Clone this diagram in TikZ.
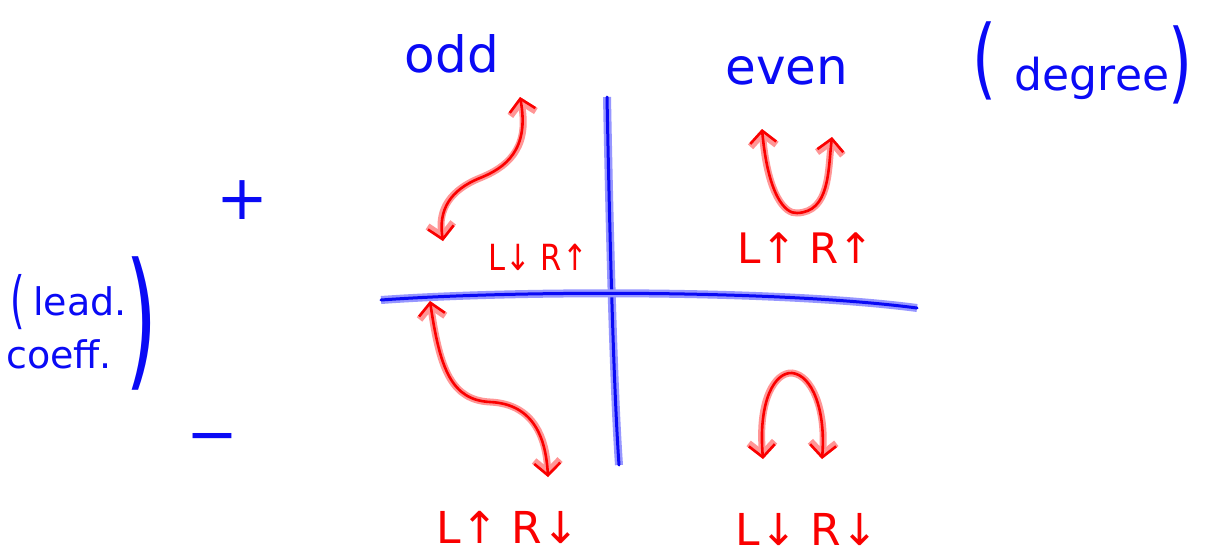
\documentclass[tikz,border=0pt]{standalone}
\usepackage{fontspec}
\setmainfont{DejaVu Sans}
\usetikzlibrary{arrows.meta}
\definecolor{penblue}{RGB}{10,10,245}
\definecolor{haloblue}{RGB}{150,150,255}
\definecolor{penred}{RGB}{250,0,0}
\definecolor{halored}{RGB}{255,150,150}
\tikzset{
  bluepen/.style={draw=penblue, line width=3pt, line cap=round, line join=round,
    preaction={draw=haloblue, line width=8pt}},
  redpen/.style={draw=penred, line width=2.6pt, line cap=round, line join=round,
    {Straight Barb[length=12pt,width=26pt]}-{Straight Barb[length=12pt,width=26pt]},
    preaction={draw=halored, line width=7pt}},
  bluetxt/.style={inner sep=0pt, text=penblue},
  redtxt/.style={inner sep=0pt, text=penred, anchor=base},
}
\begin{document}
\begin{tikzpicture}[x=1pt,y=-1pt]
\useasboundingbox[fill=white] (0,0) rectangle (1209,557);
% axes
\coordinate (vt) at (607,97);
\coordinate (vb) at (619,465);
\coordinate (hl) at (381,300);
\coordinate (hr) at (917,308);
\draw[bluepen] (vt) .. controls (609,200) and (613,380) .. (vb);
\draw[bluepen] (hl) .. controls (520,290) and (780,290) .. (hr);
% blue texts
\node[bluetxt, anchor=base, font=\fontsize{50}{50}\selectfont] (odd) at (452,72) {odd};
\node[bluetxt, anchor=base, font=\fontsize{50}{50}\selectfont] (even) at (787,84) {even};
\node[bluetxt, anchor=base, font=\fontsize{88}{90}\selectfont, xscale=0.7] (lp) at (985,88) {(};
\node[bluetxt, anchor=base, font=\fontsize{44}{44}\selectfont] (degree) at (1092,90) {degree};
\node[bluetxt, anchor=base, font=\fontsize{88}{90}\selectfont, xscale=0.7] (rp) at (1180,92) {)};
\node[bluetxt, anchor=center, font=\fontsize{62}{62}\selectfont] (plus) at (242,200) {+};
\node[bluetxt, anchor=center, font=\fontsize{62}{62}\selectfont] (minus) at (212,444) {−};
\node[bluetxt, anchor=base, font=\fontsize{62}{62}\selectfont, xscale=0.6] (lp2) at (18,321) {(};
\node[bluetxt, anchor=base west, font=\fontsize{38}{38}\selectfont] (lead) at (33,315) {lead.};
\node[bluetxt, anchor=base west, font=\fontsize{38}{38}\selectfont] (coeff) at (6,368) {coeff.};
\node[bluetxt, anchor=base, font=\fontsize{150}{150}\selectfont, xscale=0.55] (rp2) at (142,370) {)};
% red labels
\node[redtxt, font=\fontsize{36}{36}\selectfont, xscale=0.85] (q1) at (538,270) {L↓ R↑};
\node[redtxt, font=\fontsize{42}{42}\selectfont] (q2) at (806,263) {L↑ R↑};
\node[redtxt, font=\fontsize{44}{44}\selectfont] (q3) at (508,543) {L↑ R↓};
\node[redtxt, font=\fontsize{44}{44}\selectfont] (q4) at (807,545) {L↓ R↓};
% red curves
\coordinate (a1) at (520,97);
\coordinate (a2) at (443,241);
\draw[redpen] (a1) .. controls (530,150) and (505,168) .. (480,178)
  .. controls (450,190) and (438,210) .. (a2);
\coordinate (b1) at (430,301);
\coordinate (b2) at (548,477);
\draw[redpen] (b1) .. controls (440,370) and (452,400) .. (490,402)
  .. controls (535,404) and (546,440) .. (b2);
\coordinate (c1) at (762,129);
\coordinate (c2) at (832,137);
\draw[redpen] (c1) .. controls (768,195) and (785,214) .. (797,213)
  .. controls (830,212) and (828,170) .. (c2);
\coordinate (d1) at (763,459);
\coordinate (d2) at (822,459);
\draw[redpen] (d1) .. controls (758,400) and (775,372) .. (792,373)
  .. controls (812,375) and (826,410) .. (d2);
\end{tikzpicture}
\end{document}
